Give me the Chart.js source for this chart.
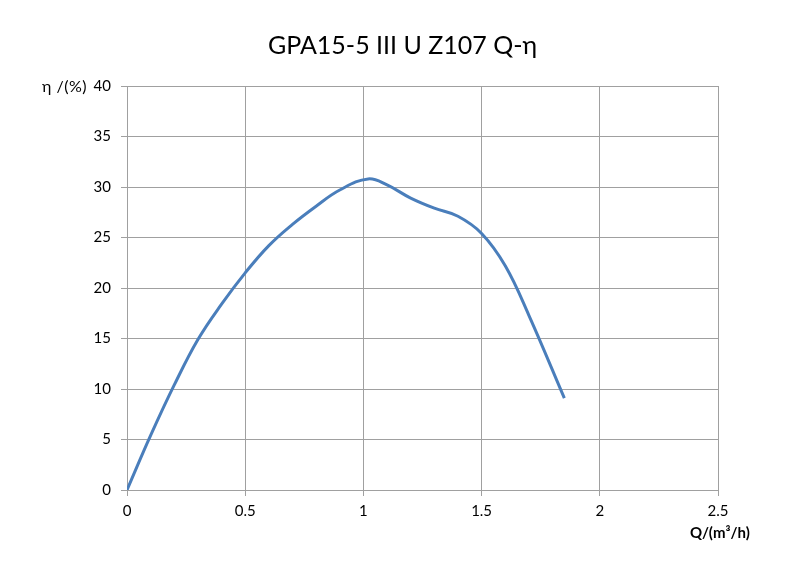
<!DOCTYPE html>
<html>
<head>
<meta charset="utf-8">
<script src="https://cdn.jsdelivr.net/npm/chart.js@4"></script>
<style>
html,body{margin:0;padding:0;background:#fff;}
#wrap{position:relative;width:805px;height:582px;}
canvas{position:absolute;left:0;top:0;}
.lbl{position:absolute;font-family:"Lato","Open Sans",sans-serif;color:#000;white-space:nowrap;}
#title{left:0;width:805px;top:29px;text-align:center;font-size:25px;}
#ytitle{left:42px;top:76px;font-size:16px;letter-spacing:0.5px;}
#xtitle{left:690px;top:523px;font-size:15px;font-weight:bold;}
</style>
</head>
<body>
<div id="wrap">
<canvas id="c" width="805" height="582"></canvas>
<div class="lbl" id="title">GPA15-5 III U Z107 Q-η</div>
<div class="lbl" id="ytitle">η /(%)</div>
<div class="lbl" id="xtitle">Q/(m³/h)</div>
</div>
<script>
const flowQ = [0, 0.1, 0.2, 0.3, 0.4, 0.5, 0.6, 0.7, 0.8, 0.9, 1.02, 1.1, 1.2, 1.3, 1.4, 1.5, 1.6, 1.7, 1.85];
const efficiency = [0, 5.4, 10.4, 14.9, 18.4, 21.5, 24.2, 26.3, 28.1, 29.7, 30.8, 30.2, 28.9, 27.9, 27.1, 25.4, 22.2, 17.3, 9.1];
const xTicks = [0, 0.5, 1, 1.5, 2, 2.5];
const yTicks = [0, 5, 10, 15, 20, 25, 30, 35, 40];

const points = flowQ.map((q, i) => ({x: q, y: efficiency[i]}));
const tickFont = {family: "Lato, 'Open Sans', sans-serif", size: 15};

new Chart(document.getElementById('c'), {
  type: 'scatter',
  data: {
    datasets: [{
      data: points,
      showLine: true,
      borderColor: '#4a7ebb',
      borderWidth: 3,
      pointRadius: 0,
      tension: 0.4,
      fill: false
    }]
  },
  options: {
    responsive: false,
    animation: false,
    layout: {padding: {top: 86, right: 87, left: 0, bottom: 0}},
    plugins: {legend: {display: false}, tooltip: {enabled: false}, title: {display: false}},
    scales: {
      x: {
        type: 'linear', min: 0, max: 2.5,
        afterBuildTicks: s => { s.ticks = xTicks.map(v => ({value: v})); },
        ticks: {font: tickFont, color: '#000', padding: 6, callback: v => String(v)},
        grid: {color: '#a0a0a0', lineWidth: 1, tickLength: 6},
        border: {color: '#a0a0a0'},
        afterFit: s => { s.height = 92; }
      },
      y: {
        type: 'linear', min: 0, max: 40,
        afterBuildTicks: s => { s.ticks = yTicks.map(v => ({value: v})); },
        ticks: {font: tickFont, color: '#000', padding: 10, callback: v => String(v)},
        grid: {color: '#a0a0a0', lineWidth: 1, tickLength: 6},
        border: {color: '#a0a0a0'},
        afterFit: s => { s.width = 127; }
      }
    }
  }
});
</script>
</body>
</html>
